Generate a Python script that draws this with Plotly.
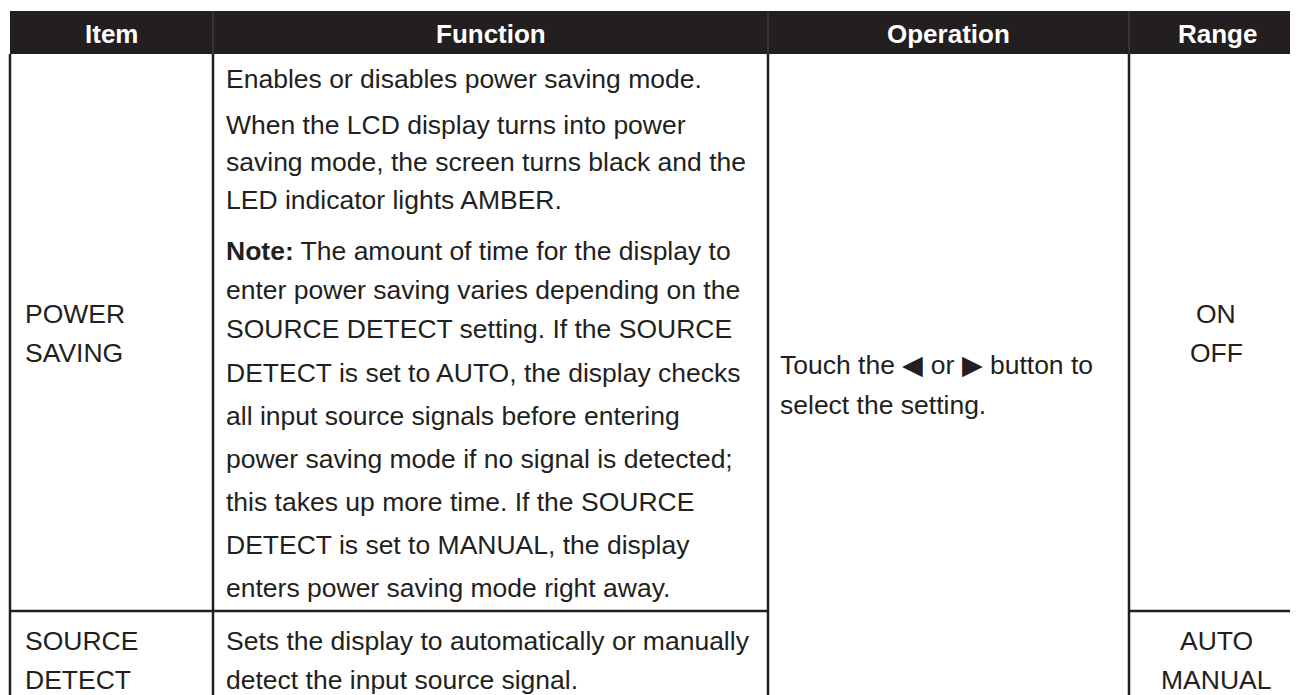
import plotly.graph_objects as go

# ---- content ----
headers = ["Item", "Function", "Operation", "Range"]
items = [["POWER", "SAVING"], ["SOURCE", "DETECT"]]
function_lines = [
    [
        "Enables or disables power saving mode.",
        "When the LCD display turns into power",
        "saving mode, the screen turns black and the",
        "LED indicator lights AMBER.",
        "<b>Note:</b> The amount of time for the display to",
        "enter power saving varies depending on the",
        "SOURCE DETECT setting. If the SOURCE",
        "DETECT is set to AUTO, the display checks",
        "all input source signals before entering",
        "power saving mode if no signal is detected;",
        "this takes up more time. If the SOURCE",
        "DETECT is set to MANUAL, the display",
        "enters power saving mode right away.",
    ],
    [
        "Sets the display to automatically or manually",
        "detect the input source signal.",
    ],
]
operation_lines = ["Touch the \u25C0 or \u25B6 button to", "select the setting."]
ranges = [["ON", "OFF"], ["AUTO", "MANUAL"]]

# ---- layout constants (page pixel space) ----
W, H = 1298, 695
BODY_MARGIN = 8  # default margin of the html body around the plot div
col_edges = [10, 213, 768, 1129, 1305]
header_top, header_bottom = 11, 54
row_sep = 611
pad = 12
fs = 26.5
fs_head = 26
dark = "#231f20"
font_body = dict(family="Liberation Sans, Arial, sans-serif", size=fs, color=dark)
font_head = dict(family="Liberation Sans, Arial, sans-serif", size=fs_head, color="white")

func_baselines = [[87, 133, 170, 208, 259, 298, 337, 381, 424, 467, 510, 553, 596], [649, 688]]
item_baselines = [[322, 361], [649, 688]]
op_baselines = [373, 413]


def mid(b):
    return b - 0.3 * fs


fig = go.Figure()
fig.add_trace(go.Scatter(x=[BODY_MARGIN, W], y=[BODY_MARGIN, H], mode="markers",
                         marker=dict(opacity=0), hoverinfo="skip", showlegend=False))

shapes = []
shapes.append(dict(type="rect", xref="x", yref="y", x0=col_edges[0], x1=W + 5, y0=header_top, y1=header_bottom,
                   fillcolor=dark, line=dict(width=0), layer="below"))
for xe in col_edges[1:4]:
    shapes.append(dict(type="line", xref="x", yref="y", x0=xe, x1=xe, y0=header_top, y1=header_bottom,
                       line=dict(color="#4d494a", width=1)))
lw = 2.5
for xe in col_edges[:4]:
    shapes.append(dict(type="line", xref="x", yref="y", x0=xe, x1=xe, y0=header_bottom, y1=H + 5,
                       line=dict(color=dark, width=lw)))
shapes.append(dict(type="line", xref="x", yref="y", x0=col_edges[0] - 1, x1=col_edges[2], y0=row_sep, y1=row_sep,
                   line=dict(color=dark, width=lw)))
shapes.append(dict(type="line", xref="x", yref="y", x0=col_edges[3], x1=W + 5, y0=row_sep, y1=row_sep,
                   line=dict(color=dark, width=lw)))

ann = []
hy = (header_top + header_bottom) / 2 + 1
for i, h in enumerate(headers):
    cx = (col_edges[i] + col_edges[i + 1]) / 2
    ann.append(dict(x=cx, y=hy, xref="x", yref="y", text=f"<b>{h}</b>", showarrow=False,
                    xanchor="center", yanchor="middle", font=font_head))

for r in range(2):
    for t, b in zip(items[r], item_baselines[r]):
        ann.append(dict(x=col_edges[0] + pad + 1, y=mid(b), xref="x", yref="y", text=t, showarrow=False,
                        xanchor="left", yanchor="middle", font=font_body))
    for t, b in zip(function_lines[r], func_baselines[r]):
        ann.append(dict(x=col_edges[1] + pad - 1, y=mid(b), xref="x", yref="y", text=t, showarrow=False,
                        xanchor="left", yanchor="middle", font=font_body))
    rc = (col_edges[3] + col_edges[4]) / 2 - 1
    for t, b in zip(ranges[r], item_baselines[r]):
        ann.append(dict(x=rc, y=mid(b), xref="x", yref="y", text=t, showarrow=False,
                        xanchor="center", yanchor="middle", font=font_body))

for t, b in zip(operation_lines, op_baselines):
    ann.append(dict(x=col_edges[2] + pad - 2, y=mid(b), xref="x", yref="y", text=t, showarrow=False,
                    xanchor="left", yanchor="middle", font=font_body))

# plot div spans page pixels [8, 1298] x [8, 695], mapped 1:1 onto the axes
fig.update_layout(
    width=W - BODY_MARGIN, height=H - BODY_MARGIN,
    margin=dict(l=0, r=0, t=0, b=0),
    paper_bgcolor="white", plot_bgcolor="white",
    xaxis=dict(range=[BODY_MARGIN, W], visible=False, fixedrange=True),
    yaxis=dict(range=[H, BODY_MARGIN], visible=False, fixedrange=True),
    shapes=shapes, annotations=ann, showlegend=False,
)
fig.write_html("out.html", config=dict(displayModeBar=False))
